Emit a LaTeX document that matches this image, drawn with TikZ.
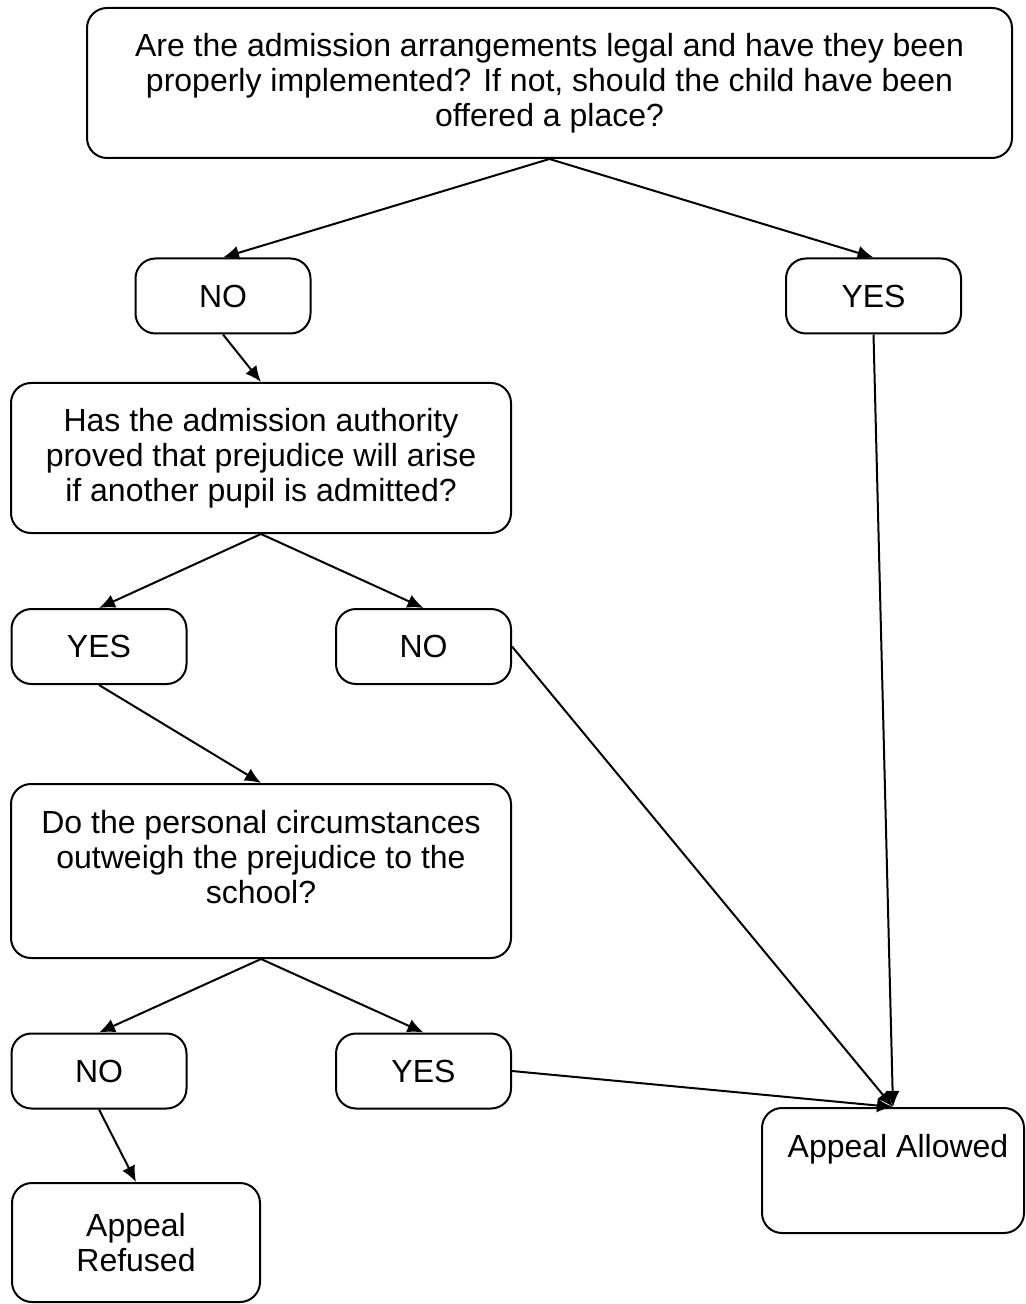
\documentclass[tikz,border=0pt]{standalone}
\usepackage{fontspec}
\setmainfont{Liberation Sans}
\usetikzlibrary{arrows.meta,positioning}

\begin{document}
\begin{tikzpicture}[x=0.5pt,y=-0.5pt,->,>={Latex[length=8pt,width=7pt]},line width=1pt,
  box/.style={draw,rounded corners=10pt,inner sep=0pt,align=center,font=\fontsize{16}{17.5}\selectfont},
  txt/.style={inner sep=0pt,align=center,font=\fontsize{16}{17.5}\selectfont},
  answer/.style={box,minimum width=87.5pt,minimum height=37.5pt},
  question/.style={box,minimum width=250pt}]
\useasboundingbox (0,0) rectangle (1025,1304);
\node [box,minimum width=462.5pt,minimum height=75pt] (top) at (549.5,83) {Are the admission arrangements legal and have they been\\properly implemented? If not, should the child have been\\offered a place?};
\node [answer] (no1) at (223,296) {NO};
\node [answer] (yes1) at (873.5,296) {YES};
\node [question,minimum height=75pt] (q2) at (261,458) {Has the admission authority\\proved that prejudice will arise\\if another pupil is admitted?};
\node [answer] (yes2) at (99,646.5) {YES};
\node [answer] (no2) at (423.5,646.5) {NO};
\node [question,minimum height=87pt] (q3) at (261,871) {};
\node [txt,below=13pt of q3.north] (q3txt) {Do the personal circumstances\\outweigh the prejudice to the\\school?};
\node [answer] (no3) at (99,1071) {NO};
\node [answer] (yes3) at (423.5,1071) {YES};
\node [box,minimum width=124pt,minimum height=59.5pt] (refused) at (136,1242.5) {Appeal\\Refused};
\node [box,minimum width=131pt,minimum height=62.5pt] (allowed) at (893,1170.5) {};
\node [txt,below=13pt of allowed.north,xshift=2.5pt] (allowedtxt) {Appeal Allowed};
\path (top.south) edge (no1.north);
\path (top.south) edge (yes1.north);
\path (no1.south) edge (q2.north);
\path (q2.south) edge (yes2.north);
\path (q2.south) edge (no2.north);
\path (yes2.south) edge (q3.north);
\path (q3.south) edge (no3.north);
\path (q3.south) edge (yes3.north);
\path (no3.south) edge (refused.north);
\path (yes1.south) edge (allowed.north);
\path (no2.east) edge (allowed.north);
\path (yes3.east) edge (allowed.north);
\end{tikzpicture}
\end{document}
